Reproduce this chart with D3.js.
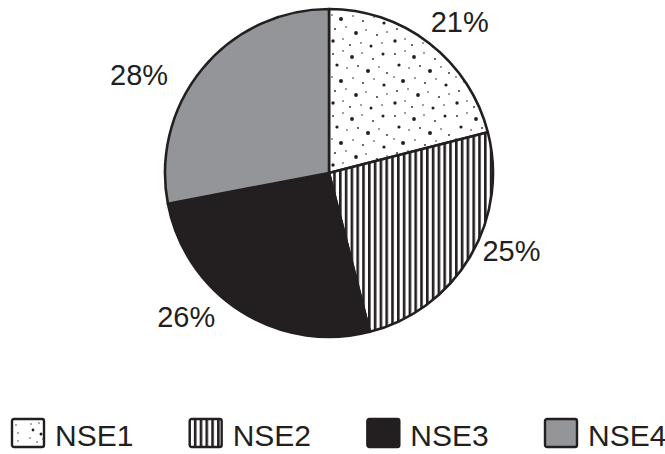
<!DOCTYPE html>
<html>
<head>
<meta charset="utf-8">
<script src="https://cdn.jsdelivr.net/npm/d3@7"></script>
<style>
  html, body { margin: 0; padding: 0; background: #fff; }
  svg { display: block; }
  text { font-family: "Liberation Sans", Arial, sans-serif; fill: #231f20; }
</style>
</head>
<body>
<script>
// ---- data ----
const categories = ["NSE1", "NSE2", "NSE3", "NSE4"];
const values = [21, 25, 26, 28];
const valueLabels = ["21%", "25%", "26%", "28%"];

// ---- layout / style ----
const W = 665, H = 454;
const cx = 329, cy = 173, R = 164;
const ink = "#231f20";
const fills = ["url(#dots)", "url(#stripes)", ink, "#939598"];
const labelR = 205;
const labelNudge = [[5, 11], [6, -26], [-33, -29], [-32, 33]];

const svg = d3.select("body").append("svg").attr("width", W).attr("height", H);
const defs = svg.append("defs");

// stipple pattern tile (texture, fixed positions)
const dotTile = [
  [4,5,0.9],[14,2,0.8],[23,8,1.9],[33,4,0.8],[44,10,0.9],[54,5,1.5],
  [8,16,1.6],[18,19,0.8],[29,17,0.9],[39,22,2.0],[50,18,0.8],[58,24,0.9],
  [3,28,0.8],[12,32,2.0],[24,29,0.8],[34,34,0.9],[45,30,0.8],[55,36,1.6],
  [6,42,0.9],[17,40,0.8],[27,46,1.9],[37,43,0.8],[48,48,0.9],[58,45,0.8],
  [4,54,1.7],[14,52,0.8],[21,58,0.9],[32,56,0.8],[42,59,1.5],[53,56,0.8]
];
const pd = defs.append("pattern").attr("id", "dots").attr("patternUnits", "userSpaceOnUse")
  .attr("width", 62).attr("height", 62);
pd.append("rect").attr("width", 62).attr("height", 62).attr("fill", "#fff");
pd.selectAll("circle").data(dotTile).join("circle")
  .attr("cx", d => d[0]).attr("cy", d => d[1]).attr("r", d => d[2]).attr("fill", ink);

// stripe pattern
const ps = defs.append("pattern").attr("id", "stripes").attr("patternUnits", "userSpaceOnUse")
  .attr("width", 5.8).attr("height", 10).attr("x", cx);
ps.append("rect").attr("width", 5.8).attr("height", 10).attr("fill", "#fff");
ps.append("rect").attr("x", 0).attr("width", 2.6).attr("height", 10).attr("fill", ink);

// legend stipple
const ld = defs.append("pattern").attr("id", "ldots").attr("patternUnits", "userSpaceOnUse")
  .attr("width", 32).attr("height", 28).attr("x", 12).attr("y", 419);
ld.append("rect").attr("width", 32).attr("height", 28).attr("fill", "#fff");
ld.selectAll("circle").data([[7,6,0.7],[15,5,0.7],[24,7,0.7],[9,12,1.4],[20,11,0.7],[17,16,1.5],[26,15,0.7],[6,20,0.7],[19,21,0.7],[26,23,0.7],[13,24,0.7]])
  .join("circle").attr("cx", d => d[0]).attr("cy", d => d[1]).attr("r", d => d[2]).attr("fill", ink);

const pie = d3.pie().sort(null).value(d => d);
const arcs = pie(values);
const arc = d3.arc().innerRadius(0).outerRadius(R);
const labelArc = d3.arc().innerRadius(labelR).outerRadius(labelR);

const g = svg.append("g").attr("transform", `translate(${cx},${cy})`);
g.selectAll("path").data(arcs).join("path")
  .attr("d", arc)
  .attr("fill", (d, i) => fills[i])
  .attr("stroke", ink).attr("stroke-width", 2.6).attr("stroke-linejoin", "round");

g.selectAll("text").data(arcs).join("text")
  .attr("transform", (d, i) => {
    const c = labelArc.centroid(d);
    return `translate(${c[0] + labelNudge[i][0]},${c[1] + labelNudge[i][1]})`;
  })
  .attr("text-anchor", "middle").attr("dominant-baseline", "central")
  .attr("font-size", 29)
  .text((d, i) => valueLabels[i]);

// legend
const legendX = d3.scalePoint().domain(categories).range([12, 545]);
const lg = svg.append("g");
const li = lg.selectAll("g").data(categories).join("g")
  .attr("transform", d => `translate(${legendX(d)},419)`);
li.append("rect").attr("width", 32).attr("height", 28).attr("rx", 2)
  .attr("fill", (d, i) => i === 0 ? "url(#ldots)" : fills[i])
  .attr("stroke", ink).attr("stroke-width", 2.4);
li.append("text").attr("x", 43).attr("y", 27).attr("font-size", 30).text(d => d);
</script>
</body>
</html>
